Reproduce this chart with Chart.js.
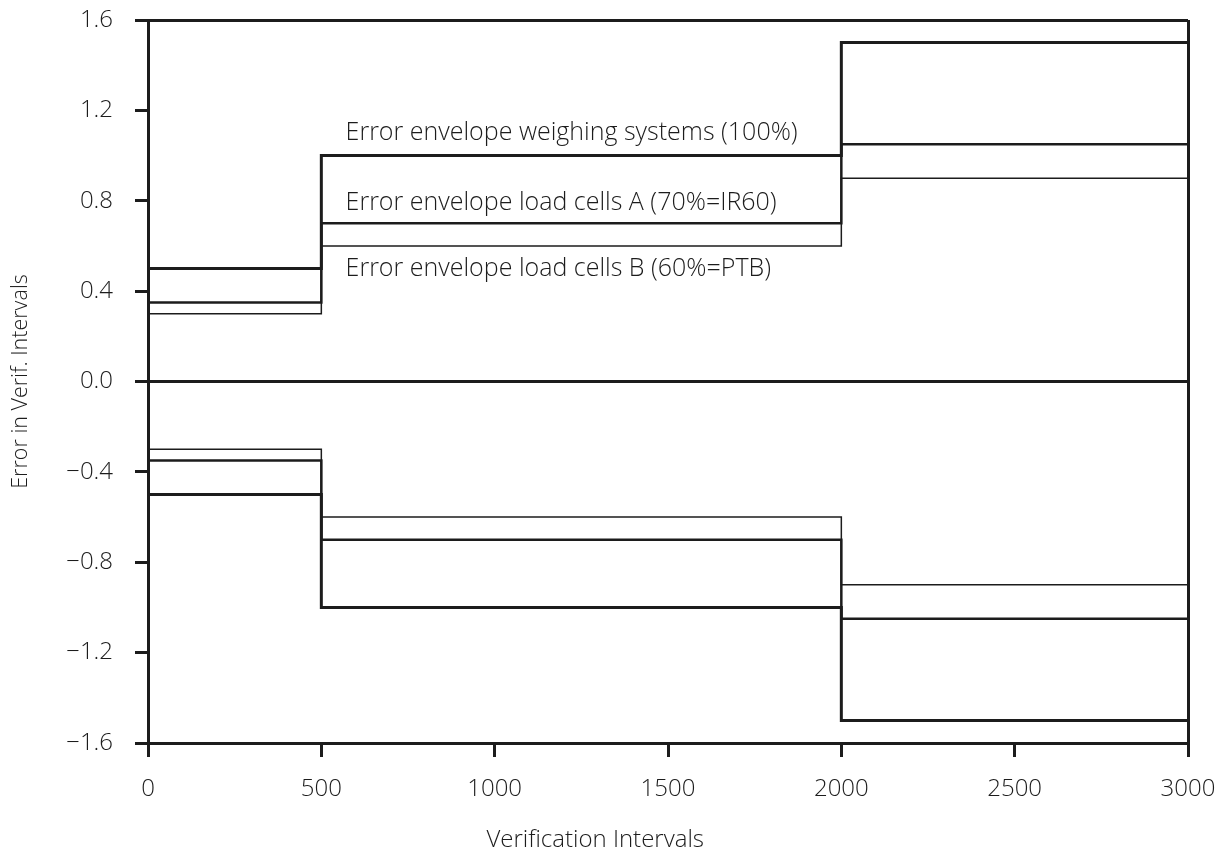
<!DOCTYPE html>
<html>
<head>
<meta charset="utf-8">
<script src="https://cdn.jsdelivr.net/npm/chart.js@4.4.1/dist/chart.umd.min.js"></script>
<style>
  html, body { margin: 0; padding: 0; background: #fff; }
  #wrap { width: 1227px; height: 852px; position: relative; }
</style>
</head>
<body>
<div id="wrap"><canvas id="c" width="1227" height="852"></canvas></div>
<script>
// ---- data ----
const breakpoints = [0, 500, 2000, 3000];           // verification intervals
const weighingSystems = [0.5, 1.0, 1.5];            // 100 %
const loadCellsA = [0.35, 0.7, 1.05];               // 70 % = IR60
const loadCellsB = [0.3, 0.6, 0.9];                 // 60 % = PTB
const yTicks = [-1.6, -1.2, -0.8, -0.4, 0.0, 0.4, 0.8, 1.2, 1.6];
const xTicks = [0, 500, 1000, 1500, 2000, 2500, 3000];
const annotationTexts = [
  'Error envelope weighing systems (100%)',
  'Error envelope load cells A (70%=IR60)',
  'Error envelope load cells B (60%=PTB)'
];
const annotationX = 570;
const annotationY = [1.1, 0.79, 0.5];

const INK = '#1c1c1c';
const FONT = '"Open Sans", "Liberation Sans", sans-serif';

// segment i spans breakpoints[i]..breakpoints[i+1] at level levels[i]
function stepPoints(levels, sign) {
  const pts = [{ x: breakpoints[0], y: sign * levels[0] }];
  levels.forEach((v, i) => pts.push({ x: breakpoints[i + 1], y: sign * v }));
  return pts;
}

function ds(label, levels, sign, width) {
  return {
    label: label,
    data: stepPoints(levels, sign),
    stepped: 'after',
    borderColor: INK,
    borderWidth: width,
    pointRadius: 0,
    fill: false,
    borderJoinStyle: 'miter'
  };
}

const datasets = [
  ds('Weighing systems (100%) +', weighingSystems, 1, 3),
  ds('Weighing systems (100%) -', weighingSystems, -1, 3),
  ds('Load cells A (70%) +', loadCellsA, 1, 2.5),
  ds('Load cells A (70%) -', loadCellsA, -1, 2.5),
  ds('Load cells B (60%) +', loadCellsB, 1, 1.5),
  ds('Load cells B (60%) -', loadCellsB, -1, 1.5)
];

const textPlugin = {
  id: 'texts',
  afterDraw(chart) {
    const ctx = chart.ctx;
    const xs = chart.scales.x, ys = chart.scales.y;
    ctx.save();
    ctx.fillStyle = INK;
    ctx.font = '300 25px ' + FONT;
    ctx.textAlign = 'left';
    ctx.textBaseline = 'middle';
    annotationTexts.forEach((t, i) => {
      ctx.fillText(t, xs.getPixelForValue(annotationX), ys.getPixelForValue(annotationY[i]));
    });
    ctx.font = '300 24px ' + FONT;
    ctx.textAlign = 'center';
    ctx.fillText('Verification Intervals', xs.getPixelForValue(1290), 840);
    ctx.restore();
  }
};

new Chart(document.getElementById('c'), {
  type: 'line',
  data: { datasets: datasets },
  plugins: [textPlugin],
  options: {
    responsive: false,
    animation: false,
    layout: { padding: { left: 0, top: 20, right: 39, bottom: 0 } },
    plugins: { legend: { display: false }, tooltip: { enabled: false } },
    scales: {
      x: {
        type: 'linear',
        min: 0, max: 3000,
        afterFit: s => { s.height = 109; s.paddingLeft = 0; s.paddingRight = 0; },
        afterBuildTicks: s => { s.ticks = xTicks.map(v => ({ value: v })); },
        ticks: {
          color: INK, font: { family: FONT, size: 24, weight: '300' }, padding: 18, maxRotation: 0,
          callback: v => String(v)
        },
        grid: {
          color: c => (c.tick && c.tick.value === 3000) ? INK : 'rgba(0,0,0,0)',
          lineWidth: 3,
          tickColor: INK,
          tickWidth: 3,
          tickLength: 14
        },
        border: { display: true, color: INK, width: 3 }
      },
      y: {
        type: 'linear',
        min: -1.6, max: 1.6,
        afterFit: s => { s.width = 148; s.paddingTop = 0; s.paddingBottom = 0; },
        afterBuildTicks: s => { s.ticks = yTicks.map(v => ({ value: v })); },
        ticks: {
          color: INK,
          font: { family: FONT, size: 24, weight: '300' },
          padding: 22,
          callback: v => {
            const s = Math.abs(v).toFixed(1);
            return v < -1e-9 ? '\u2212' + s : s;
          }
        },
        grid: {
          color: c => (c.tick && (Math.abs(c.tick.value) < 1e-9 || Math.abs(c.tick.value - 1.6) < 1e-9)) ? INK : 'rgba(0,0,0,0)',
          lineWidth: 3,
          tickColor: INK,
          tickWidth: 3,
          tickLength: 13
        },
        border: { display: true, color: INK, width: 3 },
        title: {
          display: true,
          text: 'Error in Verif. Intervals',
          color: INK,
          font: { family: FONT, size: 21.5, weight: '300' },
          padding: { top: 8, bottom: 0 }
        }
      }
    }
  }
});
</script>
</body>
</html>
